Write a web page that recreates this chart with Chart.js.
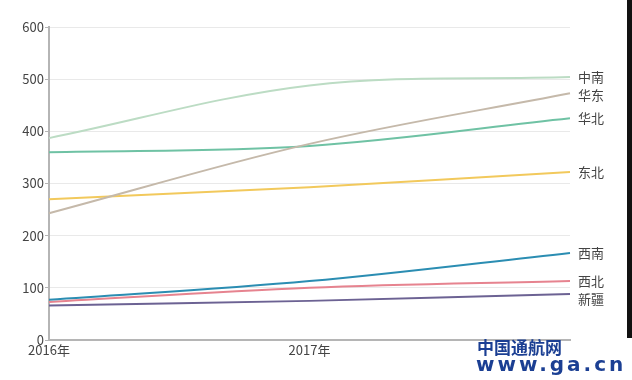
<!DOCTYPE html>
<html>
<head>
<meta charset="utf-8">
<script src="https://cdn.jsdelivr.net/npm/chart.js@4/dist/chart.umd.min.js"></script>
<style>
  html, body { margin: 0; padding: 0; background: #fff; }
  #wrap { position: relative; width: 632px; height: 380px; overflow: hidden; }
  canvas { position: absolute; left: 0; top: 0; }
  #edge { position: absolute; left: 627px; top: 0; width: 5px; height: 338px; background: #111; }
  #wm1 { position: absolute; left: 477px; top: 338px; font: bold 17px "Noto Sans CJK SC", sans-serif; color: #1b3f93; line-height: 18px; }
  #wm2 { position: absolute; left: 476px; top: 354px; font: bold 20px "DejaVu Sans", sans-serif; color: #1b3f93; letter-spacing: 3px; line-height: 20px; }
</style>
</head>
<body>
<div id="wrap">
  <canvas id="c" width="632" height="380"></canvas>
  <div id="edge"></div>
  <div id="wm1">中国通航网</div>
  <div id="wm2">www.ga.cn</div>
</div>
<script>
const years = ['2016年', '2017年', '2018年'];
const yTicks = [0, 100, 200, 300, 400, 500, 600];
const regions = ['中南', '华东', '华北', '东北', '西南', '西北', '新疆'];
const zhongnan = [387, 488, 504];
const huadong = [243, 376, 473];
const huabei  = [360, 372, 425];
const dongbei = [270, 293, 322];
const xinan   = [77, 113, 167];
const xibei   = [73, 100, 113];
const xinjiang = [66, 75, 88];
const colors = ['#bcdcc4', '#c5b9aa', '#6fc2a4', '#f2c95c', '#2b8db2', '#e6838f', '#6c6293'];
const seriesValues = [zhongnan, huadong, huabei, dongbei, xinan, xibei, xinjiang];

const endLabels = {
  id: 'endLabels',
  afterDatasetsDraw(chart) {
    const ctx = chart.ctx;
    const items = chart.data.datasets.map((ds, i) => {
      const meta = chart.getDatasetMeta(i);
      const pt = meta.data[meta.data.length - 1];
      return { text: ds.label, x: pt.x + 8, y: pt.y };
    }).sort((a, b) => a.y - b.y);
    for (let i = 1; i < items.length; i++) {
      if (items[i].y - items[i - 1].y < 18) items[i].y = items[i - 1].y + 18;
    }
    ctx.save();
    ctx.font = '13px "Noto Sans CJK SC", sans-serif';
    ctx.fillStyle = '#444';
    ctx.textAlign = 'left';
    ctx.textBaseline = 'middle';
    items.forEach(it => ctx.fillText(it.text, it.x, it.y));
    ctx.restore();
  }
};

new Chart(document.getElementById('c'), {
  type: 'line',
  data: {
    labels: years,
    datasets: regions.map((r, i) => ({
      label: r,
      data: seriesValues[i],
      borderColor: colors[i],
      backgroundColor: colors[i],
      borderWidth: 2,
      pointRadius: 0,
      tension: 0.35,
      fill: false
    }))
  },
  options: {
    responsive: false,
    animation: false,
    layout: { padding: { left: 0, right: 62, top: 27, bottom: 0 } },
    plugins: { legend: { display: false }, tooltip: { enabled: false } },
    scales: {
      x: {
        type: 'category',
        offset: false,
        grid: { display: false, tickLength: 0 },
        border: { display: true, color: '#b5b5b5', width: 2 },
        ticks: {
          color: '#444',
          font: { size: 13, family: '"Noto Sans CJK SC", sans-serif' },
          padding: 2,
          maxRotation: 0,
          autoSkip: false,
          callback: function (v, i) { return i < 2 ? years[i] : ''; }
        },
        afterFit(scale) { scale.height = 40; }
      },
      y: {
        min: 0,
        max: 600,
        afterBuildTicks(scale) { scale.ticks = yTicks.map(v => ({ value: v })); },
        grid: { color: '#e9e9e9', lineWidth: 1, tickLength: 4, tickColor: '#b5b5b5' },
        border: { display: true, color: '#b5b5b5', width: 2 },
        ticks: {
          color: '#444',
          font: { size: 13, family: '"Noto Sans CJK SC", sans-serif' },
          padding: 1
        },
        afterFit(scale) { scale.width = 49; }
      }
    }
  },
  plugins: [endLabels]
});
</script>
</body>
</html>
